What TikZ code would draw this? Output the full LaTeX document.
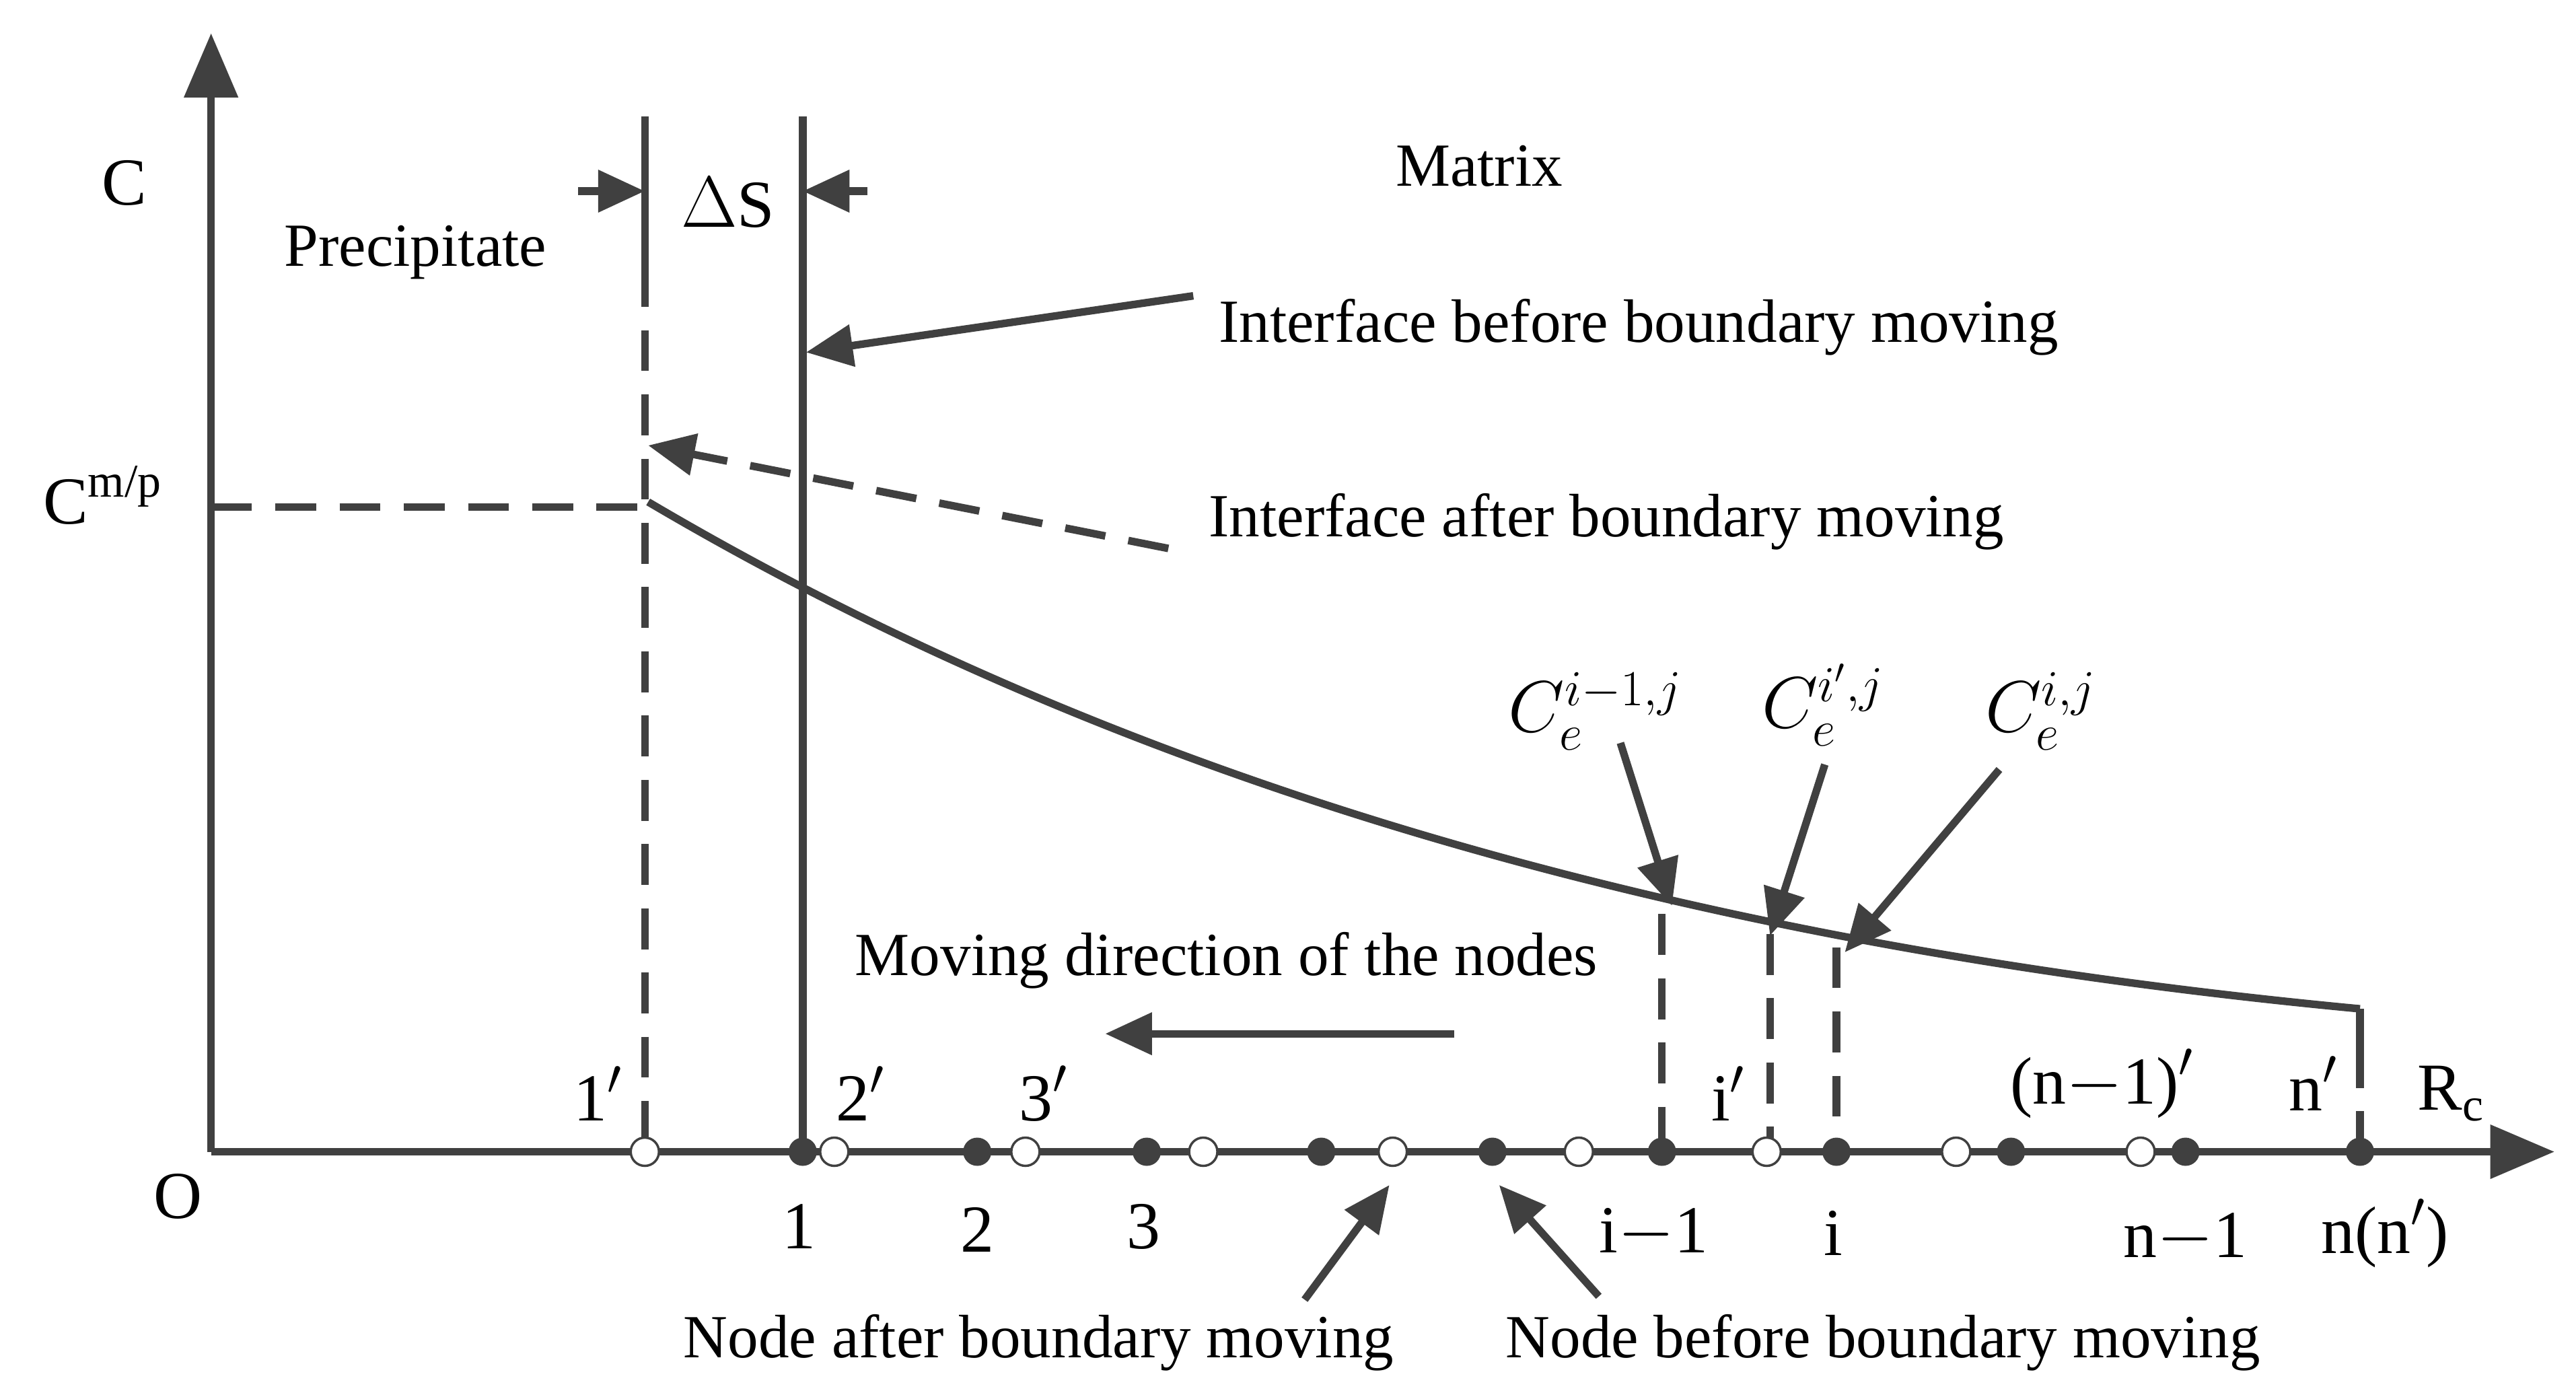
\documentclass[tikz,border=0pt]{standalone}
\usepackage{fontspec}
\setmainfont{Liberation Serif}
\usetikzlibrary{arrows.meta}
\definecolor{ink}{HTML}{404040}
\begin{document}
\begin{tikzpicture}[x=0.02cm,y=-0.02cm,
  ln/.style={ink,line width=2.6pt},
  dsh/.style={ink,line width=2.6pt,dash pattern=on 14pt off 8pt},
  arr/.style={ln,-{Triangle[length=16pt,width=14pt]}},
  fn/.style={circle,fill=ink,inner sep=0pt,minimum size=0.34cm},
  on/.style={circle,draw=ink,fill=white,line width=0.8pt,inner sep=0pt,minimum size=0.34cm},
  lb/.style={text=black,font=\fontsize{21}{25}\selectfont,inner sep=0pt},
  lbb/.style={text=black,font=\fontsize{23}{27}\selectfont,inner sep=0pt},
  ce/.style={text=black,font=\fontsize{26}{30}\selectfont,inner sep=0pt}]
\useasboundingbox (0,0) rectangle (1550,839);
\fill[white] (0,0) rectangle (1550,839);
% axes
\coordinate (O) at (127,693);
\coordinate (Ytop) at (127,20);
\coordinate (Xend) at (1537,693);
\draw[ln,-{Triangle[length=22pt,width=18pt]}] (O) -- (Ytop);
\draw[ln,-{Triangle[length=22pt,width=18pt]}] (O) -- (Xend);
\node[lbb] (lO) at (107,720) {O};
\node[lbb] (lC) at (75,110) {C};
\node[lbb] (lR) at (1475,658) {R\textsubscript{c}};
% interfaces
\coordinate (dT) at (388,70); \coordinate (dB) at (388,693);
\coordinate (sT) at (483,70); \coordinate (sB) at (483,693);
\draw[ln] (dT) -- (388,160);
\draw[dsh] (388,160) -- (dB);
\draw[ln] (sT) -- (sB);
\coordinate (a1) at (348,115); \coordinate (a1e) at (388,115);
\coordinate (a2) at (522,115); \coordinate (a2e) at (483,115);
\draw[arr] (a1) -- (a1e);
\draw[arr] (a2) -- (a2e);
\node[lbb] (dS) at (438,122) {$\Delta$S};
\node[lb] (prec) at (250,152) {Precipitate};
\node[lb] (mat) at (890,100) {Matrix};
\coordinate (ib) at (718,178); \coordinate (ibe) at (485,212);
\draw[arr] (ib) -- (ibe);
\node[lb,anchor=west] (lib) at (733,197) {Interface before boundary moving};
\coordinate (ia) at (703,330); \coordinate (iae) at (390,268);
\draw[dsh,-{Triangle[length=16pt,width=14pt]}] (ia) -- (iae);
\node[lb,anchor=west] (lia) at (727,314) {Interface after boundary moving};
\node[lbb] (cmp) at (62,298) {C\textsuperscript{m/p}};
\coordinate (h0) at (127,305); \coordinate (h1) at (388,305);
\draw[dsh] (h0) -- (h1);
% curve
\coordinate (c0) at (390,302);
\coordinate (cE) at (1420,607);
\draw[ln] (c0) .. controls (700,485) and (1050,572) .. (cE);
\draw[ln] (cE) -- (1420,630);
\draw[dsh] (1420,630) -- (1420,693);
\draw[dsh] (1000,550) -- (1000,693);
\draw[dsh] (1065,562) -- (1065,693);
\draw[dsh] (1105,570) -- (1105,693);
\node[ce] (ce1) at (960,428) {$C_e^{i-1,j}$};
\node[ce] (ce2) at (1097,424) {$C_e^{i',j}$};
\node[ce] (ce3) at (1228,428) {$C_e^{i,j}$};
\coordinate (p1) at (975,447); \coordinate (p1e) at (1006,545);
\coordinate (p2) at (1098,460); \coordinate (p2e) at (1065,563);
\coordinate (p3) at (1203,463); \coordinate (p3e) at (1110,573);
\draw[arr] (p1) -- (p1e);
\draw[arr] (p2) -- (p2e);
\draw[arr] (p3) -- (p3e);
\node[lb] (mv) at (738,578) {Moving direction of the nodes};
\coordinate (m0) at (875,622); \coordinate (m1) at (665,622);
\draw[arr] (m0) -- (m1);
% nodes
\foreach \x [count=\k] in {483,588,690,795,898,1000,1105,1210,1315,1420} \node[fn] (f\k) at (\x,693) {};
\foreach \x [count=\k] in {388,502,617,724,838,950,1063,1177,1288} \node[on] (o\k) at (\x,693) {};
\node[lbb] at (481,738) {1};
\node[lbb] at (588,740) {2};
\node[lbb] at (688,738) {3};
\node[lbb] at (995,742) {i$-$1};
\node[lbb] at (1103,742) {i};
\node[lbb] at (1315,745) {n$-$1};
\node[lbb] at (1435,742) {n(n$'$)};
\node[lbb] at (360,658) {1$'$};
\node[lbb] at (518,658) {2$'$};
\node[lbb] at (628,658) {3$'$};
\node[lbb] at (1040,658) {i$'$};
\node[lbb] at (1265,652) {(n$-$1)$'$};
\node[lbb] at (1392,652) {n$'$};
\coordinate (na) at (785,782); \coordinate (nae) at (836,713);
\coordinate (nb) at (962,780); \coordinate (nbe) at (902,713);
\draw[arr] (na) -- (nae);
\draw[arr] (nb) -- (nbe);
\node[lb] at (625,808) {Node after boundary moving};
\node[lb] at (1133,808) {Node before boundary moving};
\end{tikzpicture}
\end{document}
